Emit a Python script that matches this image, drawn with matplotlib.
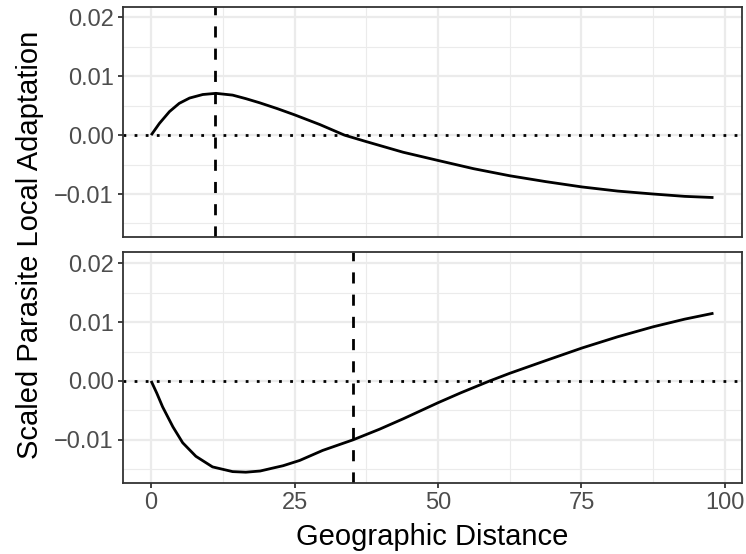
import matplotlib
matplotlib.use("Agg")
import matplotlib.pyplot as plt
from matplotlib.ticker import MultipleLocator

# ---- data ----
x_top = [0, 1.45, 3.2, 4.9, 6.7, 9.0, 11.3, 14.2, 16.5, 18.9, 22.0, 25.0, 29.4,
         33.7, 37.5, 43.9, 50.0, 56.2, 62.5, 68.8, 75.1, 81.3, 87.5, 93.0, 98.0]
y_top = [0.0, 0.0020, 0.0040, 0.0054, 0.0063, 0.0069, 0.0071, 0.0068, 0.0062,
         0.0055, 0.0045, 0.00345, 0.0018, 0.0000, -0.0011, -0.0029, -0.0043,
         -0.0057, -0.0069, -0.0079, -0.0088, -0.0095, -0.0100, -0.0104, -0.0106]
vline_top = 11.2

x_bot = [0, 1.0, 2.0, 3.8, 5.5, 7.8, 10.7, 14.2, 16.5, 19.0, 21.2, 23.0, 25.9,
         29.9, 35.2, 39.8, 44.0, 50.0, 54.0, 59.0, 62.5, 68.9, 75.1, 81.3, 87.5,
         93.0, 98.0]
y_bot = [0.0, -0.0021, -0.0044, -0.0078, -0.0105, -0.0128, -0.0146, -0.0154,
         -0.0155, -0.0153, -0.0148, -0.0144, -0.0135, -0.0118, -0.0100, -0.0082,
         -0.0064, -0.0037, -0.0020, 0.0000, 0.0013, 0.0035, 0.0056, 0.0075,
         0.0092, 0.0105, 0.0115]
vline_bot = 35.2

x_ticks = [0, 25, 50, 75, 100]
y_ticks = [-0.01, 0.00, 0.01, 0.02]
y_ticklabels = ["\u22120.01", "0.00", "0.01", "0.02"]

plt.rcParams['font.family'] = ['Liberation Sans', 'DejaVu Sans']

W, H = 746, 554
fig = plt.figure(figsize=(W / 100, H / 100), dpi=100)

def frac_box(l, t, r, b):
    return [l / W, 1 - b / H, (r - l) / W, (b - t) / H]

ax1 = fig.add_axes(frac_box(123, 6.5, 741.6, 236.7))
ax2 = fig.add_axes(frac_box(123, 252.3, 741.6, 482.5))

grid_col = "#EBEBEB"
dark = "#333333"
lw = 2.0

for ax, xs, ys, vx, show_x in [(ax1, x_top, y_top, vline_top, False),
                               (ax2, x_bot, y_bot, vline_bot, True)]:
    ax.set_xlim(-4.9, 102.9)
    ax.set_ylim(-0.01725, 0.02185)
    ax.xaxis.set_major_locator(MultipleLocator(25))
    ax.xaxis.set_minor_locator(MultipleLocator(12.5))
    ax.yaxis.set_major_locator(MultipleLocator(0.01))
    ax.yaxis.set_minor_locator(MultipleLocator(0.005))
    ax.set_yticks(y_ticks)
    ax.set_yticklabels(y_ticklabels)
    ax.set_xticks(x_ticks)
    ax.grid(which='major', color=grid_col, linewidth=1.6)
    ax.grid(which='minor', color=grid_col, linewidth=0.8)
    ax.set_axisbelow(True)
    for s in ax.spines.values():
        s.set_color(dark)
        s.set_linewidth(1.3)
    ax.tick_params(axis='y', which='major', length=3.6, width=1.3, color=dark,
                   labelsize=17, labelcolor="#4D4D4D", pad=3)
    ax.tick_params(which='minor', length=0)
    if show_x:
        ax.tick_params(axis='x', which='major', length=3.6, width=1.3, color=dark,
                       labelsize=17, labelcolor="#4D4D4D", pad=3)
    else:
        ax.tick_params(axis='x', which='major', length=0, labelbottom=False)
    ax.axhline(0, color='black', linewidth=lw, linestyle=(0, (1, 3)),
               dash_capstyle='butt', zorder=2)
    ax.axvline(vx, color='black', linewidth=lw, linestyle=(0, (4, 4)),
               dash_capstyle='butt', zorder=2)
    ax.plot(xs, ys, color='black', linewidth=lw, solid_capstyle='butt',
            solid_joinstyle='round', zorder=3)

fig.text(30 / W, 1 - 244.5 / H, "Scaled Parasite Local Adaptation",
         rotation=90, ha='center', va='center', fontsize=21, color='black')
fig.text((123 + 741.6) / 2 / W, 1 - 537 / H, "Geographic Distance",
         ha='center', va='center', fontsize=21, color='black')

fig.savefig("out.png", dpi=100, facecolor='white')
